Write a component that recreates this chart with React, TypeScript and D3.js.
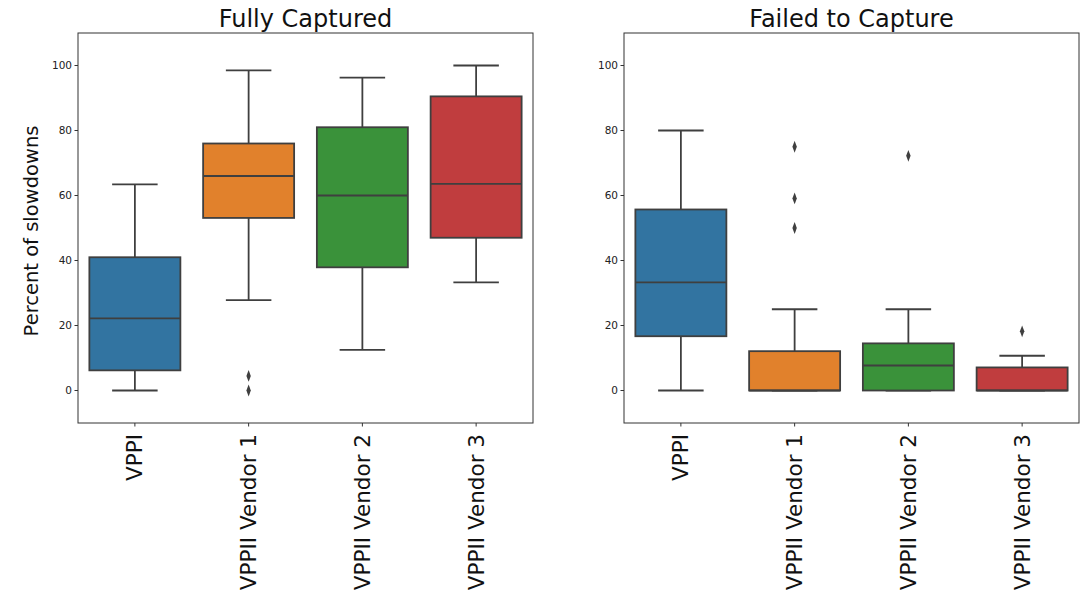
import React from "react";
import * as d3 from "d3";

const categories = ["VPPI", "VPPII Vendor 1", "VPPII Vendor 2", "VPPII Vendor 3"];
const colors = ["#3274a1", "#e1812c", "#3a923a", "#c03d3e"];
const yTicks = [0, 20, 40, 60, 80, 100];

// Fully Captured
const fullLow = [0, 27.8, 12.5, 33.3];
const fullQ1 = [6.2, 53.1, 37.9, 47.0];
const fullMed = [22.2, 66.0, 60.0, 63.6];
const fullQ3 = [41.0, 76.0, 81.0, 90.5];
const fullHigh = [63.4, 98.5, 96.3, 100];
const fullOutliers = [[], [4.5, 0], [], []];

// Failed to Capture
const failLow = [0, 0, 0, 0];
const failQ1 = [16.7, 0, 0, 0];
const failMed = [33.3, 0, 7.7, 0];
const failQ3 = [55.7, 12.1, 14.5, 7.1];
const failHigh = [80, 25, 25, 10.7];
const failOutliers = [[], [75, 59.1, 50], [72.2], [18.2]];

const W = 1081;
const H = 590;
const top = 33;
const bottom = 423;
const font = "DejaVu Sans, sans-serif";
const lineColor = "#3f3f3f";

type PanelProps = {
  title: string;
  left: number;
  right: number;
  low: number[];
  q1: number[];
  med: number[];
  q3: number[];
  high: number[];
  outliers: number[][];
  ylabel?: string;
};

function Panel({ title, left, right, low, q1, med, q3, high, outliers, ylabel }: PanelProps) {
  const x = d3.scaleBand<string>().domain(categories).range([left, right]).paddingInner(0).paddingOuter(0);
  const y = d3.scaleLinear().domain([-10, 110]).range([bottom, top]);
  const bw = x.bandwidth() * 0.8;
  const diamond = d3.symbol().type(d3.symbolDiamond).size(40)();
  return (
    <g>
      <text x={(left + right) / 2} y={27} textAnchor="middle" fontSize={24} fontFamily={font} fill="#111">
        {title}
      </text>
      {categories.map((c, i) => {
        const cx = x(c)! + x.bandwidth() / 2;
        return (
          <g key={c}>
            <line x1={cx} x2={cx} y1={y(q3[i])} y2={y(high[i])} stroke={lineColor} strokeWidth={1.8} />
            <line x1={cx} x2={cx} y1={y(q1[i])} y2={y(low[i])} stroke={lineColor} strokeWidth={1.8} />
            <line x1={cx - bw / 4} x2={cx + bw / 4} y1={y(high[i])} y2={y(high[i])} stroke={lineColor} strokeWidth={1.8} />
            <line x1={cx - bw / 4} x2={cx + bw / 4} y1={y(low[i])} y2={y(low[i])} stroke={lineColor} strokeWidth={1.8} />
            <rect
              x={cx - bw / 2}
              y={y(q3[i])}
              width={bw}
              height={y(q1[i]) - y(q3[i])}
              fill={colors[i]}
              stroke={lineColor}
              strokeWidth={1.8}
            />
            <line x1={cx - bw / 2} x2={cx + bw / 2} y1={y(med[i])} y2={y(med[i])} stroke={lineColor} strokeWidth={1.8} />
            {outliers[i].map((v, j) => (
              <path
                key={j}
                d={diamond || ""}
                transform={`translate(${cx},${y(v)}) scale(0.65,1)`}
                fill={lineColor}
              />
            ))}
            <line x1={cx} x2={cx} y1={bottom} y2={bottom + 3.5} stroke="#333" strokeWidth={1} />
            <text
              transform={`translate(${cx + 7.5},${bottom + 11}) rotate(-90)`}
              textAnchor="end"
              fontSize={21.5}
              fontFamily={font}
              fill="#111"
            >
              {c}
            </text>
          </g>
        );
      })}
      {yTicks.map((t) => (
        <g key={t}>
          <line x1={left - 3.5} x2={left} y1={y(t)} y2={y(t)} stroke="#333" strokeWidth={1} />
          <text x={left - 6} y={y(t)} dy="0.35em" textAnchor="end" fontSize={10.5} fontFamily={font} fill="#222">
            {t}
          </text>
        </g>
      ))}
      <rect x={left} y={top} width={right - left} height={bottom - top} fill="none" stroke="#333" strokeWidth={1} />
      {ylabel && (
        <text
          transform={`translate(38,231) rotate(-90)`}
          textAnchor="middle"
          fontSize={19.5}
          fontFamily={font}
          fill="#111"
        >
          {ylabel}
        </text>
      )}
    </g>
  );
}

export default function App() {
  return (
    <svg
      width={W}
      height={H}
      style={{ position: "absolute", left: 0, top: 0, background: "#fff" }}
    >
      <rect width={W} height={H} fill="#fff" />
      <Panel
        title="Fully Captured"
        left={78}
        right={533}
        low={fullLow}
        q1={fullQ1}
        med={fullMed}
        q3={fullQ3}
        high={fullHigh}
        outliers={fullOutliers}
        ylabel="Percent of slowdowns"
      />
      <Panel
        title="Failed to Capture"
        left={624}
        right={1079}
        low={failLow}
        q1={failQ1}
        med={failMed}
        q3={failQ3}
        high={failHigh}
        outliers={failOutliers}
      />
    </svg>
  );
}
